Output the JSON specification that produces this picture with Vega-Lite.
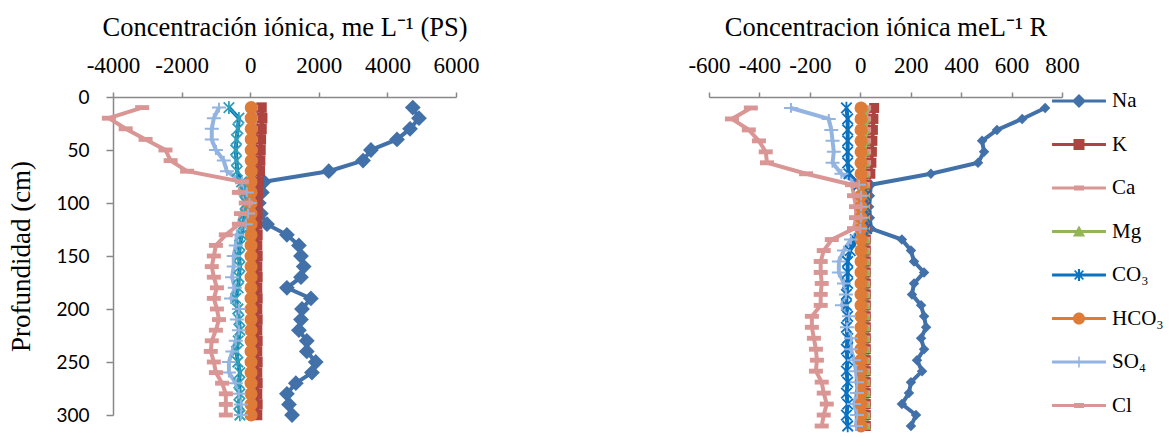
{
  "$schema": "https://vega.github.io/schema/vega-lite/v6.json",
  "padding": {"left": 7, "top": 14, "right": 20, "bottom": 0},
  "bounds": "flush",
  "spacing": 253,
  "datasets": {
    "ps": [
      {"depth": 10, "Na": 4740, "K": 330, "Ca": 150, "Mg": 20, "CO₃": -620, "HCO₃": 30, "SO₄": -910, "Cl": -3150},
      {"depth": 20, "Na": 4920, "K": 350, "Ca": 150, "Mg": 20, "CO₃": -330, "HCO₃": 30, "SO₄": -1060, "Cl": -4120},
      {"depth": 30, "Na": 4660, "K": 330, "Ca": 140, "Mg": 20, "CO₃": -360, "HCO₃": 30, "SO₄": -1120, "Cl": -3630},
      {"depth": 40, "Na": 4280, "K": 310, "Ca": 140, "Mg": 20, "CO₃": -400, "HCO₃": 30, "SO₄": -1120, "Cl": -3050},
      {"depth": 50, "Na": 3520, "K": 300, "Ca": 130, "Mg": 20, "CO₃": -420, "HCO₃": 30, "SO₄": -1000, "Cl": -2470},
      {"depth": 60, "Na": 3290, "K": 290, "Ca": 130, "Mg": 20, "CO₃": -400, "HCO₃": 30, "SO₄": -770, "Cl": -2320},
      {"depth": 70, "Na": 2290, "K": 280, "Ca": 120, "Mg": 20, "CO₃": -380, "HCO₃": 30, "SO₄": -680, "Cl": -1840},
      {"depth": 80, "Na": 400, "K": 240, "Ca": 110, "Mg": 20, "CO₃": -250, "HCO₃": 25, "SO₄": -240, "Cl": -240},
      {"depth": 90, "Na": 340, "K": 220, "Ca": 100, "Mg": 20, "CO₃": -150, "HCO₃": 25, "SO₄": -100, "Cl": -330},
      {"depth": 100, "Na": 250, "K": 210, "Ca": 100, "Mg": 20, "CO₃": -120, "HCO₃": 25, "SO₄": -20, "Cl": -130},
      {"depth": 110, "Na": 310, "K": 210, "Ca": 100, "Mg": 20, "CO₃": -150, "HCO₃": 25, "SO₄": -60, "Cl": -270},
      {"depth": 120, "Na": 490, "K": 200, "Ca": 100, "Mg": 20, "CO₃": -200, "HCO₃": 25, "SO₄": -130, "Cl": -330},
      {"depth": 130, "Na": 1070, "K": 210, "Ca": 100, "Mg": 20, "CO₃": -250, "HCO₃": 25, "SO₄": -390, "Cl": -710},
      {"depth": 140, "Na": 1420, "K": 200, "Ca": 100, "Mg": 20, "CO₃": -300, "HCO₃": 25, "SO₄": -420, "Cl": -1000},
      {"depth": 150, "Na": 1480, "K": 210, "Ca": 100, "Mg": 20, "CO₃": -330, "HCO₃": 25, "SO₄": -480, "Cl": -1060},
      {"depth": 160, "Na": 1560, "K": 200, "Ca": 100, "Mg": 20, "CO₃": -300, "HCO₃": 25, "SO₄": -480, "Cl": -1120},
      {"depth": 170, "Na": 1480, "K": 210, "Ca": 100, "Mg": 20, "CO₃": -330, "HCO₃": 25, "SO₄": -530, "Cl": -1060},
      {"depth": 180, "Na": 1070, "K": 200, "Ca": 100, "Mg": 20, "CO₃": -350, "HCO₃": 25, "SO₄": -450, "Cl": -970},
      {"depth": 190, "Na": 1770, "K": 210, "Ca": 100, "Mg": 20, "CO₃": -420, "HCO₃": 25, "SO₄": -560, "Cl": -1060},
      {"depth": 200, "Na": 1510, "K": 200, "Ca": 100, "Mg": 20, "CO₃": -360, "HCO₃": 25, "SO₄": -330, "Cl": -970},
      {"depth": 210, "Na": 1480, "K": 210, "Ca": 100, "Mg": 20, "CO₃": -330, "HCO₃": 25, "SO₄": -390, "Cl": -910},
      {"depth": 220, "Na": 1420, "K": 200, "Ca": 100, "Mg": 20, "CO₃": -300, "HCO₃": 25, "SO₄": -330, "Cl": -1000},
      {"depth": 230, "Na": 1650, "K": 210, "Ca": 100, "Mg": 20, "CO₃": -350, "HCO₃": 25, "SO₄": -420, "Cl": -1120},
      {"depth": 240, "Na": 1650, "K": 200, "Ca": 100, "Mg": 20, "CO₃": -400, "HCO₃": 25, "SO₄": -520, "Cl": -1150},
      {"depth": 250, "Na": 1910, "K": 210, "Ca": 100, "Mg": 20, "CO₃": -360, "HCO₃": 25, "SO₄": -620, "Cl": -1060},
      {"depth": 260, "Na": 1800, "K": 200, "Ca": 100, "Mg": 20, "CO₃": -300, "HCO₃": 25, "SO₄": -620, "Cl": -1000},
      {"depth": 270, "Na": 1330, "K": 210, "Ca": 100, "Mg": 20, "CO₃": -330, "HCO₃": 25, "SO₄": -420, "Cl": -820},
      {"depth": 280, "Na": 1070, "K": 200, "Ca": 100, "Mg": 20, "CO₃": -300, "HCO₃": 25, "SO₄": -330, "Cl": -710},
      {"depth": 290, "Na": 1130, "K": 210, "Ca": 100, "Mg": 20, "CO₃": -330, "HCO₃": 25, "SO₄": -270, "Cl": -710},
      {"depth": 300, "Na": 1220, "K": 200, "Ca": 100, "Mg": 20, "CO₃": -300, "HCO₃": 25, "SO₄": -270, "Cl": -710}
    ],
    "r": [
      {"depth": 10, "Na": 733, "K": 55, "Ca": 32, "Mg": 22, "CO₃": -55, "HCO₃": 3, "SO₄": -275, "Cl": -434},
      {"depth": 20, "Na": 642, "K": 52, "Ca": 32, "Mg": 22, "CO₃": -50, "HCO₃": 3, "SO₄": -125, "Cl": -509},
      {"depth": 30, "Na": 542, "K": 50, "Ca": 32, "Mg": 22, "CO₃": -50, "HCO₃": 3, "SO₄": -115, "Cl": -442},
      {"depth": 40, "Na": 483, "K": 48, "Ca": 32, "Mg": 22, "CO₃": -50, "HCO₃": 3, "SO₄": -110, "Cl": -402},
      {"depth": 50, "Na": 491, "K": 46, "Ca": 32, "Mg": 22, "CO₃": -50, "HCO₃": 3, "SO₄": -105, "Cl": -375},
      {"depth": 60, "Na": 467, "K": 44, "Ca": 32, "Mg": 22, "CO₃": -50, "HCO₃": 3, "SO₄": -110, "Cl": -370},
      {"depth": 70, "Na": 280, "K": 40, "Ca": 30, "Mg": 22, "CO₃": -45, "HCO₃": 3, "SO₄": -75, "Cl": -215},
      {"depth": 80, "Na": 42, "K": 25, "Ca": 28, "Mg": 22, "CO₃": -5, "HCO₃": 3, "SO₄": -5, "Cl": -33},
      {"depth": 90, "Na": 38, "K": 22, "Ca": 28, "Mg": 25, "CO₃": 22, "HCO₃": 3, "SO₄": 3, "Cl": -25},
      {"depth": 100, "Na": 35, "K": 22, "Ca": 28, "Mg": 25, "CO₃": 22, "HCO₃": 3, "SO₄": 3, "Cl": -17},
      {"depth": 110, "Na": 38, "K": 22, "Ca": 28, "Mg": 25, "CO₃": 22, "HCO₃": 3, "SO₄": 3, "Cl": -17},
      {"depth": 120, "Na": 42, "K": 22, "Ca": 28, "Mg": 25, "CO₃": 25, "HCO₃": 3, "SO₄": 0, "Cl": -25},
      {"depth": 130, "Na": 165, "K": 22, "Ca": 28, "Mg": 25, "CO₃": -20, "HCO₃": 3, "SO₄": -37, "Cl": -113},
      {"depth": 140, "Na": 201, "K": 22, "Ca": 28, "Mg": 25, "CO₃": -40, "HCO₃": 3, "SO₄": -65, "Cl": -145},
      {"depth": 150, "Na": 213, "K": 22, "Ca": 28, "Mg": 25, "CO₃": -50, "HCO₃": 3, "SO₄": -85, "Cl": -157},
      {"depth": 160, "Na": 253, "K": 22, "Ca": 28, "Mg": 25, "CO₃": -50, "HCO₃": 3, "SO₄": -85, "Cl": -157},
      {"depth": 170, "Na": 213, "K": 22, "Ca": 28, "Mg": 25, "CO₃": -50, "HCO₃": 3, "SO₄": -65, "Cl": -153},
      {"depth": 180, "Na": 205, "K": 22, "Ca": 28, "Mg": 25, "CO₃": -55, "HCO₃": 3, "SO₄": -57, "Cl": -157},
      {"depth": 190, "Na": 241, "K": 22, "Ca": 28, "Mg": 25, "CO₃": -55, "HCO₃": 3, "SO₄": -73, "Cl": -157},
      {"depth": 200, "Na": 253, "K": 22, "Ca": 28, "Mg": 25, "CO₃": -50, "HCO₃": 3, "SO₄": -45, "Cl": -192},
      {"depth": 210, "Na": 261, "K": 22, "Ca": 28, "Mg": 25, "CO₃": -55, "HCO₃": 3, "SO₄": -53, "Cl": -192},
      {"depth": 220, "Na": 241, "K": 22, "Ca": 28, "Mg": 25, "CO₃": -50, "HCO₃": 3, "SO₄": -37, "Cl": -184},
      {"depth": 230, "Na": 253, "K": 22, "Ca": 28, "Mg": 25, "CO₃": -55, "HCO₃": 3, "SO₄": -37, "Cl": -176},
      {"depth": 240, "Na": 225, "K": 22, "Ca": 28, "Mg": 25, "CO₃": -50, "HCO₃": 3, "SO₄": -25, "Cl": -172},
      {"depth": 250, "Na": 245, "K": 22, "Ca": 28, "Mg": 25, "CO₃": -55, "HCO₃": 3, "SO₄": -17, "Cl": -176},
      {"depth": 260, "Na": 201, "K": 22, "Ca": 28, "Mg": 25, "CO₃": -50, "HCO₃": 3, "SO₄": -13, "Cl": -153},
      {"depth": 270, "Na": 193, "K": 22, "Ca": 28, "Mg": 25, "CO₃": -55, "HCO₃": 3, "SO₄": -13, "Cl": -145},
      {"depth": 280, "Na": 165, "K": 22, "Ca": 28, "Mg": 25, "CO₃": -50, "HCO₃": 3, "SO₄": -25, "Cl": -133},
      {"depth": 290, "Na": 221, "K": 22, "Ca": 28, "Mg": 25, "CO₃": -55, "HCO₃": 3, "SO₄": -13, "Cl": -145},
      {"depth": 300, "Na": 201, "K": 22, "Ca": 28, "Mg": 25, "CO₃": -50, "HCO₃": 3, "SO₄": -17, "Cl": -153}
    ]
  },
  "config": {
    "view": {"stroke": null},
    "axis": {"grid": false, "domainColor": "#888888", "tickColor": "#888888", "domainWidth": 1.5, "tickWidth": 1.5, "labelColor": "#000000", "titleColor": "#000000", "titleFontWeight": "normal"},
    "legend": {"symbolSize": 484, "symbolStrokeWidth": 0, "symbolOpacity": 1, "labelFont": "Liberation Serif", "labelFontSize": 21, "labelColor": "#000000", "labelOffset": 22, "rowPadding": 22.5, "offset": -5, "padding": -7}
  },
  "resolve": {"scale": {"x": "independent", "y": "independent"}},
  "hconcat": [
    {
      "width": 343,
      "height": 318,
      "data": {"name": "ps"},
      "transform": [{"fold": ["Na", "K", "Ca", "Mg", "CO₃", "HCO₃", "SO₄", "Cl"], "as": ["ion", "value"]}],
      "encoding": {
        "x": {"field": "value", "type": "quantitative", "scale": {"domain": [-4000, 6000], "nice": false, "zero": false},
          "axis": {"orient": "top", "values": [-4000, -2000, 0, 2000, 4000, 6000], "labelExpr": "toString(datum.value)", "labelFlush": false, "labelOverlap": false, "title": "Concentración iónica, me L⁻¹ (PS)", "titleFont": "Liberation Serif", "titleFontSize": 26.5, "titlePadding": 13, "labelFont": "Liberation Serif", "labelFontSize": 23, "labelPadding": 15, "tickSize": 5}},
        "y": {"field": "depth", "type": "quantitative", "scale": {"domain": [0, 300], "reverse": true, "nice": false},
          "axis": {"values": [0, 50, 100, 150, 200, 250, 300], "title": "Profundidad (cm)", "titleFont": "Liberation Serif", "titleFontSize": 27, "titlePadding": 20, "labelFont": "Lato", "labelFontSize": 19, "labelPadding": 17, "tickSize": 7}},
        "color": {"field": "ion", "type": "nominal", "title": null,
          "scale": {"domain": ["Na", "K", "Ca", "Mg", "CO₃", "HCO₃", "SO₄", "Cl"], "range": ["#4271AA", "#AD4440", "#D99694", "#94B557", "#0A72C0", "#DE7B37", "#93B4E0", "#D99694"]}}
      },
      "layer": [
        {"mark": {"type": "point", "filled": true, "opacity": 0},
          "encoding": {
            "shape": {"field": "ion", "type": "nominal", "title": null,
              "scale": {"domain": ["Na", "K", "Ca", "Mg", "CO₃", "HCO₃", "SO₄", "Cl"],
                "range": [
                  "M-2.45,-0.136H2.45V0.136H-2.45Z M0,-0.64L0.64,0L0,0.64L-0.64,0Z",
                  "M-2.45,-0.136H2.45V0.136H-2.45Z M-0.5,-0.5H0.5V0.5H-0.5Z",
                  "M-2.45,-0.136H2.45V0.136H-2.45Z M-0.45,-0.22H0.45V0.22H-0.45Z",
                  "M-2.45,-0.136H2.45V0.136H-2.45Z M0,-0.55L0.55,0.45L-0.55,0.45Z",
                  "M-2.45,-0.136H2.45V0.136H-2.45Z M-0.1,-0.55H0.1V0.55H-0.1Z M-0.35,-0.45L0.45,0.35L0.35,0.45L-0.45,-0.35Z M-0.45,0.35L0.35,-0.45L0.45,-0.35L-0.35,0.45Z",
                  "M-2.45,-0.136H2.45V0.136H-2.45Z M-0.55,0A0.55,0.55 0 1,1 0.55,0A0.55,0.55 0 1,1 -0.55,0Z",
                  "M-2.45,-0.136H2.45V0.136H-2.45Z M-0.07,-0.5H0.07V0.5H-0.07Z",
                  "M-2.45,-0.136H2.45V0.136H-2.45Z M-0.45,-0.22H0.45V0.22H-0.45Z"
                ]}}
          }},
        {"mark": {"type": "line", "strokeWidth": 4}, "encoding": {"order": {"field": "depth"}}},
        {"transform": [{"filter": {"field": "ion", "equal": "Na"}}], "mark": {"type": "point", "shape": "diamond", "filled": true, "size": 250, "opacity": 1}},
        {"transform": [{"filter": {"field": "ion", "equal": "K"}}], "mark": {"type": "point", "shape": "square", "filled": true, "size": 110, "opacity": 1}},
        {"transform": [{"filter": {"field": "ion", "equal": "Ca"}}], "mark": {"type": "point", "shape": "square", "filled": true, "size": 30, "opacity": 1}},
        {"transform": [{"filter": {"field": "ion", "equal": "Mg"}}], "mark": {"type": "point", "shape": "triangle-up", "filled": true, "size": 80, "opacity": 1}},
        {"transform": [{"filter": {"field": "ion", "equal": "CO₃"}}], "mark": {"type": "point", "shape": "M-1,-1L1,1M-1,1L1,-1M0,-1.2L0,1.2", "filled": false, "strokeWidth": 1.8, "size": 110, "opacity": 1, "color": "#2F9FB8"}, "encoding": {"color": {"value": "#2F9FB8"}}},
        {"transform": [{"filter": {"field": "ion", "equal": "HCO₃"}}], "mark": {"type": "point", "shape": "circle", "filled": true, "size": 170, "opacity": 1}},
        {"transform": [{"filter": {"field": "ion", "equal": "SO₄"}}], "mark": {"type": "point", "shape": "M-1,0L1,0M0,-0.7L0,0.7", "filled": false, "strokeWidth": 2, "size": 196, "opacity": 1}},
        {"transform": [{"filter": {"field": "ion", "equal": "Cl"}}], "mark": {"type": "point", "shape": "M-1,-0.35L1,-0.35L1,0.35L-1,0.35Z", "filled": true, "size": 196, "opacity": 1}}
      ]
    },
    {
      "width": 353,
      "height": 329,
      "data": {"name": "r"},
      "transform": [{"fold": ["Na", "K", "Ca", "Mg", "CO₃", "HCO₃", "SO₄", "Cl"], "as": ["ion", "value"]}],
      "encoding": {
        "x": {"field": "value", "type": "quantitative", "scale": {"domain": [-600, 800], "nice": false, "zero": false},
          "axis": {"orient": "top", "values": [-600, -400, -200, 0, 200, 400, 600, 800], "labelExpr": "toString(datum.value)", "labelFlush": false, "labelOverlap": false, "title": "Concentracion iónica meL⁻¹ R", "titleFont": "Liberation Serif", "titleFontSize": 26.5, "titlePadding": 13, "labelFont": "Liberation Serif", "labelFontSize": 23, "labelPadding": 15, "tickSize": 5}},
        "y": {"field": "depth", "type": "quantitative", "scale": {"domain": [0, 300], "reverse": true, "nice": false}, "axis": null},
        "color": {"field": "ion", "type": "nominal", "title": null,
          "scale": {"domain": ["Na", "K", "Ca", "Mg", "CO₃", "HCO₃", "SO₄", "Cl"], "range": ["#4271AA", "#AD4440", "#D99694", "#94B557", "#0A72C0", "#DE7B37", "#93B4E0", "#D99694"]}}
      },
      "layer": [
        {"mark": {"type": "line", "strokeWidth": 4}, "encoding": {"order": {"field": "depth"}}},
        {"transform": [{"filter": {"field": "ion", "equal": "Na"}}], "mark": {"type": "point", "shape": "diamond", "filled": true, "size": 110, "opacity": 1}},
        {"transform": [{"filter": {"field": "ion", "equal": "K"}}], "mark": {"type": "point", "shape": "square", "filled": true, "size": 100, "opacity": 1}},
        {"transform": [{"filter": {"field": "ion", "equal": "Ca"}}], "mark": {"type": "point", "shape": "square", "filled": true, "size": 30, "opacity": 1}},
        {"transform": [{"filter": {"field": "ion", "equal": "Mg"}}], "mark": {"type": "point", "shape": "triangle-up", "filled": true, "size": 80, "opacity": 1}},
        {"transform": [{"filter": {"field": "ion", "equal": "CO₃"}}], "mark": {"type": "point", "shape": "M-1,-1L1,1M-1,1L1,-1M0,-1.2L0,1.2", "filled": false, "strokeWidth": 1.8, "size": 110, "opacity": 1}},
        {"transform": [{"filter": {"field": "ion", "equal": "HCO₃"}}], "mark": {"type": "point", "shape": "circle", "filled": true, "size": 170, "opacity": 1}},
        {"transform": [{"filter": {"field": "ion", "equal": "SO₄"}}], "mark": {"type": "point", "shape": "M-1,0L1,0M0,-0.7L0,0.7", "filled": false, "strokeWidth": 2, "size": 196, "opacity": 1}},
        {"transform": [{"filter": {"field": "ion", "equal": "Cl"}}], "mark": {"type": "point", "shape": "M-1,-0.35L1,-0.35L1,0.35L-1,0.35Z", "filled": true, "size": 196, "opacity": 1}}
      ]
    }
  ]
}
